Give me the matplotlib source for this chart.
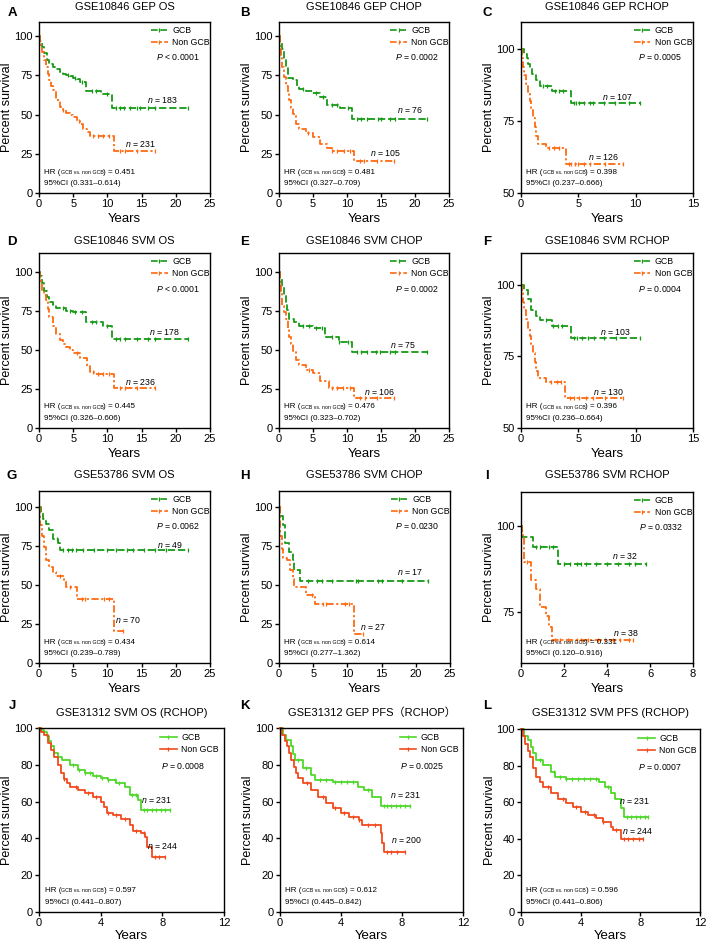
import numpy as np
import matplotlib
matplotlib.use("Agg")
from matplotlib import pyplot as plt
from matplotlib.lines import Line2D

plt.rcParams['font.family'] = ['Liberation Sans', 'Noto Sans CJK SC']
plt.rcParams['mathtext.fontset'] = 'custom'
plt.rcParams['mathtext.it'] = 'Liberation Sans:italic'
plt.rcParams['mathtext.rm'] = 'Liberation Sans'

# ---- survival step data: t = event times (years), s = survival (%), c = censor times
# A  GSE10846 GEP OS
a_gcb_t = [0, 0.2, 0.5, 0.8, 1.1, 1.5, 2.0, 2.5, 3.0, 3.5, 4.0, 4.5, 5.0, 5.5, 6.0, 6.8, 9.0, 10.7]
a_gcb_s = [100, 97, 93, 89, 85, 82, 80, 79, 77, 76, 75.5, 74.5, 73.5, 72.5, 71, 65, 63, 54.5]
a_gcb_c = [4.2, 5.3, 6.3, 7.8, 8.4, 10.0, 11.3, 11.8, 12.4, 13.3, 14.3, 14.8, 15.9, 17.0, 21.8]
a_non_t = [0, 0.1, 0.3, 0.5, 0.75, 1.0, 1.25, 1.5, 1.75, 2.0, 2.5, 3.0, 3.5, 4.0, 4.5, 5.0, 5.5, 6.0, 6.5, 7.0, 7.5, 11.0]
a_non_s = [100, 96, 93, 90, 85, 80.5, 76, 72, 68.5, 65.5, 59, 55, 53, 51, 49.5, 48.5, 46, 44, 41, 39, 36.5, 26.5]
a_non_c = [3.5, 5.8, 7.9, 8.6, 9.3, 10.2, 11.8, 12.6, 14.3, 16.9]
# B  GSE10846 GEP CHOP
b_gcb_t = [0, 0.2, 0.4, 0.7, 1.0, 1.3, 2.0, 2.7, 3.0, 4.0, 5.0, 6.0, 7.0, 9.0, 10.7]
b_gcb_s = [100, 96, 92, 86, 80, 73, 72, 68, 66.5, 65, 63.5, 61.5, 56, 54, 47]
b_gcb_c = [3.6, 5.5, 6.4, 7.8, 8.6, 10.2, 11.5, 12.1, 13.0, 14.5, 15.0, 16.3, 17.0, 21.8]
b_non_t = [0, 0.1, 0.3, 0.5, 0.75, 1.0, 1.25, 1.5, 1.75, 2.0, 2.5, 3.0, 4.0, 5.0, 6.0, 7.0, 7.8, 11.0]
b_non_s = [100, 93, 86, 80, 74, 68.5, 63.5, 59, 54.5, 50.5, 44, 40.5, 38, 35.5, 31.5, 28.5, 27, 20.5]
b_non_c = [4.3, 7.8, 8.5, 9.5, 10.4, 11.9, 12.5, 14.4, 16.9]
# C  GSE10846 GEP RCHOP
c_gcb_t = [0, 0.3, 0.5, 0.65, 0.8, 1.0, 1.3, 1.7, 2.7, 4.4]
c_gcb_s = [100, 98.5, 97, 95, 93.5, 91.5, 89.3, 87.2, 85.5, 81.2]
c_gcb_c = [1.9, 2.3, 3.0, 3.3, 3.7, 4.6, 4.8, 5.1, 5.5, 6.0, 6.3, 7.2, 8.2, 9.4, 10.4]
c_non_t = [0, 0.1, 0.2, 0.3, 0.45, 0.6, 0.75, 0.9, 1.05, 1.2, 1.35, 1.5, 2.2, 3.9]
c_non_s = [100, 97, 94, 91, 88, 85, 82, 79, 76, 73, 70, 67, 65.5, 60]
c_non_c = [2.4, 2.9, 3.3, 4.2, 4.4, 4.7, 5.0, 5.5, 6.0, 7.3, 8.9]
# D  GSE10846 SVM OS
d_gcb_t = [0, 0.2, 0.5, 0.8, 1.1, 1.5, 2.0, 2.5, 4.0, 5.0, 6.9, 9.3, 10.7]
d_gcb_s = [100, 97, 93, 88, 84, 80.5, 79, 76.5, 75, 74, 68, 65, 57]
d_gcb_c = [3.5, 4.5, 5.2, 6.3, 7.8, 8.4, 10.0, 11.3, 11.8, 12.6, 14.3, 15.9, 17.0, 21.8]
d_non_t = [0, 0.1, 0.3, 0.5, 0.75, 1.0, 1.25, 1.5, 2.0, 2.5, 3.0, 3.5, 4.0, 4.5, 5.0, 6.0, 7.0, 7.5, 8.0, 11.0]
d_non_s = [100, 96, 92, 88, 85, 82, 76, 71, 65, 60, 56.5, 54, 52, 50, 48, 44.5, 39.5, 36, 34.5, 25.5]
d_non_c = [5.6, 7.9, 8.6, 9.3, 10.2, 11.8, 12.6, 14.3, 16.9]
# E  GSE10846 SVM CHOP
e_gcb_t = [0, 0.2, 0.4, 0.7, 1.0, 1.2, 1.4, 2.2, 3.0, 5.0, 6.8, 8.8, 10.8]
e_gcb_s = [100, 96, 91, 85, 80, 75.5, 69.5, 68, 65.3, 64.3, 58.5, 55.3, 48.5]
e_gcb_c = [3.5, 4.4, 5.4, 6.3, 7.8, 8.8, 10.2, 11.4, 12.0, 13.0, 14.3, 14.9, 16.3, 17.0, 21.8]
e_non_t = [0, 0.1, 0.25, 0.5, 0.75, 1.0, 1.25, 1.5, 1.75, 2.0, 2.5, 3.0, 4.0, 5.0, 6.0, 7.3, 11.0]
e_non_s = [100, 92, 86, 78, 74, 70, 64, 58.5, 53.5, 49, 43.5, 40.5, 37, 35, 30, 25.5, 19]
e_non_c = [4.4, 7.8, 8.5, 9.4, 10.4, 11.9, 12.6, 14.4, 16.9]
# F  GSE10846 SVM RCHOP
f_gcb_t = [0, 0.3, 0.6, 0.9, 1.3, 1.7, 2.7, 4.4]
f_gcb_s = [100, 98, 95, 91.3, 89, 87.6, 85.5, 81.3]
f_gcb_c = [2.2, 2.8, 3.2, 3.6, 4.6, 4.9, 5.3, 5.8, 6.4, 7.2, 8.3, 10.4]
f_non_t = [0, 0.1, 0.2, 0.3, 0.45, 0.6, 0.75, 0.9, 1.05, 1.2, 1.35, 1.5, 2.2, 3.8]
f_non_s = [100, 97, 94, 91, 88, 85, 82, 79, 76, 73, 70, 67.5, 66, 60.3]
f_non_c = [2.6, 3.1, 3.5, 4.3, 4.6, 5.1, 5.7, 6.3, 7.3, 8.9]
# G  GSE53786 SVM OS
g_gcb_t = [0, 0.3, 0.6, 1.0, 1.5, 2.0, 2.8, 3.1]
g_gcb_s = [100, 96, 92, 89, 85, 79, 76.5, 72.5]
g_gcb_c = [2.6, 3.5, 4.2, 4.8, 5.4, 6.5, 8.0, 10.0, 11.2, 12.8, 13.8, 15.3, 17.0, 18.5, 21.8]
g_non_t = [0, 0.1, 0.2, 0.4, 0.7, 1.0, 1.5, 2.0, 2.5, 3.7, 4.0, 5.5, 11.0]
g_non_s = [100, 95, 88, 81, 74, 66, 61.5, 58.3, 55.5, 53, 48.5, 41, 20.5]
g_non_c = [3.0, 4.5, 6.3, 6.7, 9.5, 10.2, 12.3]
# H  GSE53786 SVM CHOP
h_gcb_t = [0, 0.2, 0.6, 0.9, 1.4, 2.0, 2.2, 3.0]
h_gcb_s = [100, 94, 88, 76.5, 71, 65.8, 59.4, 52.6]
h_gcb_c = [4.2, 5.5, 6.3, 7.8, 11.2, 11.5, 14.5, 15.0, 18.0, 21.8]
h_non_t = [0, 0.1, 0.2, 0.4, 0.6, 1.2, 1.6, 2.0, 2.2, 4.0, 5.3, 11.0]
h_non_s = [100, 92, 81, 73, 67, 65.8, 59.4, 54, 48.5, 43.5, 37.5, 18.5]
h_non_c = [4.8, 6.4, 6.8, 9.7, 10.2, 12.3]
# I  GSE53786 SVM RCHOP
i_gcb_t = [0, 0.05, 0.55, 1.7]
i_gcb_s = [100, 96.9, 93.8, 88.9]
i_gcb_c = [0.7, 0.9, 1.3, 1.5, 2.0, 2.3, 2.6, 2.8, 3.0, 3.5, 4.0, 4.5, 5.0, 5.3, 5.8]
i_non_t = [0, 0.05, 0.12, 0.15, 0.45, 0.7, 0.9, 1.15, 1.3, 1.42]
i_non_s = [100, 97.4, 94.7, 89.5, 84.2, 81.6, 76.3, 73.7, 70.5, 66.6]
i_non_c = [0.3, 1.6, 1.8, 2.2, 2.6, 2.8, 3.1, 3.6, 3.9, 4.3, 4.6, 5.0, 5.2]
# J  GSE31312 SVM OS (RCHOP)
j_gcb_t = [0, 0.15, 0.3, 0.5, 0.65, 0.8, 1.0, 1.25, 1.5, 2.0, 2.5, 3.0, 3.5, 4.0, 4.5, 5.0, 5.6, 5.9, 6.4, 6.6]
j_gcb_s = [100, 99, 98, 95.5, 93, 90, 86.5, 84.5, 82.7, 80, 77.3, 75.5, 74, 72.7, 71.8, 70, 68.2, 63.6, 60.9, 55.5]
j_gcb_c = [2.2, 2.6, 3.0, 3.3, 3.7, 4.1, 4.5, 4.9, 5.2, 6.0, 6.3, 6.8, 7.0, 7.3, 7.6, 7.9, 8.2, 8.5]
j_non_t = [0, 0.15, 0.3, 0.6, 0.8, 1.0, 1.2, 1.4, 1.6, 1.8, 2.0, 2.5, 3.0, 3.5, 4.0, 4.2, 4.4, 4.8, 5.3, 5.9, 6.1, 6.6, 6.9, 7.0, 7.3]
j_non_s = [100, 98, 96, 91.8, 88, 84.5, 80, 75.5, 72.5, 70, 68.2, 66.4, 64.5, 62.7, 60, 57.3, 53.6, 52.7, 50.4, 47.3, 44.2, 42.7, 40.9, 35.5, 30]
j_non_c = [1.6, 2.4, 3.2, 3.7, 4.5, 5.0, 5.6, 6.3, 6.8, 7.5, 7.8, 8.2]
# K  GSE31312 GEP PFS (RCHOP)
k_gcb_t = [0, 0.2, 0.4, 0.7, 0.85, 1.0, 1.5, 2.0, 2.3, 3.5, 5.1, 5.5, 6.0, 6.6]
k_gcb_s = [100, 96, 93.6, 90, 86, 82.7, 78.2, 74.5, 71.8, 70.4, 68.2, 66.4, 62.7, 57.6]
k_gcb_c = [1.2, 1.7, 2.6, 3.0, 3.6, 4.0, 4.4, 4.8, 5.8, 6.8, 7.0, 7.3, 7.6, 7.9, 8.2, 8.5]
k_non_t = [0, 0.15, 0.3, 0.45, 0.6, 0.75, 0.9, 1.05, 1.2, 1.5, 2.0, 2.5, 3.0, 3.5, 4.0, 4.5, 5.2, 5.4, 6.6, 6.7, 6.8]
k_non_s = [100, 96, 93, 90, 86.4, 82.5, 79, 75.5, 72.7, 70, 66.4, 62.7, 59, 56.4, 53.6, 51.8, 50, 47.3, 42.7, 37.3, 32.7]
k_non_c = [1.8, 2.8, 3.6, 4.2, 4.8, 5.2, 5.8, 6.2, 7.0, 7.3, 7.7, 8.2]
# L  GSE31312 SVM PFS (RCHOP)
l_gcb_t = [0, 0.2, 0.5, 0.65, 0.8, 1.0, 1.5, 2.0, 2.3, 3.0, 5.2, 5.6, 6.0, 6.3, 6.7, 6.9]
l_gcb_s = [100, 96, 94, 90, 86.7, 83, 80.3, 76.6, 73.9, 72.6, 71.2, 68.4, 64.8, 62, 56.6, 52]
l_gcb_c = [1.3, 2.2, 2.6, 3.0, 3.4, 3.8, 4.2, 4.6, 5.0, 5.8, 7.1, 7.4, 7.7, 8.0, 8.3, 8.5]
l_non_t = [0, 0.15, 0.3, 0.45, 0.6, 0.8, 1.0, 1.25, 1.5, 2.0, 2.5, 3.0, 3.5, 4.0, 4.5, 5.0, 5.5, 6.0, 6.2, 6.7]
l_non_s = [100, 96, 92, 88, 84.8, 78.5, 74, 71, 68.4, 65.1, 62, 59.3, 57.5, 54.7, 52.9, 51.6, 49.3, 46.5, 44.7, 40.1]
l_non_c = [1.8, 2.8, 3.7, 4.3, 4.9, 5.5, 6.4, 6.9, 7.2, 7.5, 7.9, 8.2]

letters = list("ABCDEFGHIJKL")
titles = ["GSE10846 GEP OS", "GSE10846 GEP CHOP", "GSE10846 GEP RCHOP",
          "GSE10846 SVM OS", "GSE10846 SVM CHOP", "GSE10846 SVM RCHOP",
          "GSE53786 SVM OS", "GSE53786 SVM CHOP", "GSE53786 SVM RCHOP",
          "GSE31312 SVM OS (RCHOP)", "GSE31312 GEP PFS\uff08RCHOP\uff09", "GSE31312 SVM PFS (RCHOP)"]
n_gcb = [183, 76, 107, 178, 75, 103, 49, 17, 32, 231, 231, 231]
n_non = [231, 105, 126, 236, 106, 130, 70, 27, 38, 244, 200, 244]
hr_vals = ["0.451", "0.481", "0.398", "0.445", "0.476", "0.396", "0.434", "0.614", "0.331", "0.597", "0.612", "0.596"]
ci_vals = ["0.331\u20130.614", "0.327\u20130.709", "0.237\u20130.666", "0.326\u20130.606", "0.323\u20130.702",
           "0.236\u20130.664", "0.239\u20130.789", "0.277\u20131.362", "0.120\u20130.916", "0.441\u20130.807",
           "0.445\u20130.842", "0.441\u20130.806"]
p_vals = ["< 0.0001", "= 0.0002", "= 0.0005", "< 0.0001", "= 0.0002", "= 0.0004",
          "= 0.0062", "= 0.0230", "= 0.0332", "= 0.0008", "= 0.0025", "= 0.0007"]

curves = [
    (a_gcb_t, a_gcb_s, a_gcb_c, a_non_t, a_non_s, a_non_c),
    (b_gcb_t, b_gcb_s, b_gcb_c, b_non_t, b_non_s, b_non_c),
    (c_gcb_t, c_gcb_s, c_gcb_c, c_non_t, c_non_s, c_non_c),
    (d_gcb_t, d_gcb_s, d_gcb_c, d_non_t, d_non_s, d_non_c),
    (e_gcb_t, e_gcb_s, e_gcb_c, e_non_t, e_non_s, e_non_c),
    (f_gcb_t, f_gcb_s, f_gcb_c, f_non_t, f_non_s, f_non_c),
    (g_gcb_t, g_gcb_s, g_gcb_c, g_non_t, g_non_s, g_non_c),
    (h_gcb_t, h_gcb_s, h_gcb_c, h_non_t, h_non_s, h_non_c),
    (i_gcb_t, i_gcb_s, i_gcb_c, i_non_t, i_non_s, i_non_c),
    (j_gcb_t, j_gcb_s, j_gcb_c, j_non_t, j_non_s, j_non_c),
    (k_gcb_t, k_gcb_s, k_gcb_c, k_non_t, k_non_s, k_non_c),
    (l_gcb_t, l_gcb_s, l_gcb_c, l_non_t, l_non_s, l_non_c),
]

# ---- layout (pixels in a 709x942 canvas): left, top, right, bottom of each axes
W, H = 709, 942
boxes = [(39, 22, 210, 193), (279, 22, 449, 193), (521, 22, 693, 193),
         (39, 253, 210, 428), (279, 253, 449, 428), (521, 253, 693, 428),
         (39, 491, 210, 663), (279, 491, 450, 663), (521, 492, 693, 663),
         (39, 728, 224, 912), (280, 728, 463, 912), (521, 729, 700, 912)]
xlims = [(0, 25)] * 2 + [(0, 15)] + [(0, 25)] * 2 + [(0, 15)] + [(0, 25)] * 2 + [(0, 8)] + [(0, 12)] * 3
xticks = [np.arange(0, 26, 5)] * 2 + [np.arange(0, 16, 5)] + [np.arange(0, 26, 5)] * 2 + [np.arange(0, 16, 5)] \
    + [np.arange(0, 26, 5)] * 2 + [np.arange(0, 9, 2)] + [np.arange(0, 13, 4)] * 3
ylims = [(0, 109), (0, 109), (50, 109.5), (0, 112), (0, 112), (50, 111), (0, 110), (0, 110), (60, 110),
         (0, 100), (0, 100), (0, 100)]
yticks = [[0, 25, 50, 75, 100]] * 2 + [[50, 75, 100]] + [[0, 25, 50, 75, 100]] * 2 + [[50, 75, 100]] \
    + [[0, 25, 50, 75, 100]] * 2 + [[75, 100]] + [[0, 20, 40, 60, 80, 100]] * 3
n_gcb_pos = [(18.1, 59), (19.3, 53), (8.4, 83.3), (18.4, 61.5), (18.2, 53), (8.2, 83.6),
             (19.2, 75.6), (19.2, 58.3), (4.84, 91.3), (7.65, 60.9), (8.2, 63.6), (7.6, 60.9)]
n_non_pos = [(14.8, 31), (15.6, 25.5), (7.2, 62.5), (14.8, 29.5), (14.8, 23), (7.6, 62.6),
             (13.0, 27.6), (13.7, 23), (4.9, 68.9), (8.0, 35.9), (8.3, 39.1), (7.8, 44)]

col_old = ('#169a16', '#ff6a10')
col_new = ('#4fd82a', '#f24a1c')
ls_old = ((0, (4, 1.6)), (0, (4, 1.4, 1.2, 1.4)))


def step_at(t, s, x):
    idx = np.searchsorted(np.asarray(t), np.asarray(x), side='right') - 1
    return np.asarray(s)[idx]


fig = plt.figure(figsize=(W / 100, H / 100), dpi=100)

for k in range(12):
    l, t, r, b = boxes[k]
    ax = fig.add_axes([l / W, 1 - b / H, (r - l) / W, (b - t) / H])
    newstyle = k >= 9
    cols = col_new if newstyle else col_old
    styles = ('-', '-') if newstyle else ls_old
    gt, gs, gc, nt, ns, nc = curves[k]
    for tt, ss, cc, col, ls in ((gt, gs, gc, cols[0], styles[0]), (nt, ns, nc, cols[1], styles[1])):
        end = max(cc)
        x = list(tt) + [end]
        y = list(ss) + [ss[-1]]
        ax.step(x, y, where='post', color=col, lw=1.3, linestyle=ls, clip_on=False)
        ax.plot(cc, step_at(tt, ss, cc), linestyle='none', marker='|', ms=3.5, mew=0.9, color=col, clip_on=False)

    ax.set_xlim(*xlims[k])
    ax.set_ylim(*ylims[k])
    ax.set_xticks(xticks[k])
    ax.set_yticks(yticks[k])
    for sp in ax.spines.values():
        sp.set_linewidth(1.0)
    ax.tick_params(direction='out', length=3, width=1, labelsize=8, pad=1.5)
    ax.set_xlabel('Years', fontsize=9.5)
    ax.set_ylabel('Percent survival', fontsize=9)
    ax.xaxis.set_label_coords(0.5, -0.115 if k < 9 else -0.1)
    ax.yaxis.set_label_coords(-0.15 if k < 9 else -0.14, 0.5)

    # title and panel letter
    cx = (l + r) / 2 / W
    ty = {0: 7, 1: 241, 2: 475, 3: 713}[k // 3]
    fig.text(cx, 1 - ty / H, titles[k], ha='center', va='center', fontsize=8)
    lx = [12, 245, 487][k % 3]
    ly = {0: 13, 1: 242, 2: 476, 3: 706}[k // 3]
    fig.text(lx / W, 1 - ly / H, letters[k], ha='center', va='center', fontsize=9.5, fontweight='bold')

    # legend
    handles = [Line2D([], [], color=cols[0], ls=styles[0], lw=1.2, marker='|', ms=3.5, mew=0.9),
               Line2D([], [], color=cols[1], ls=styles[1], lw=1.2, marker='|', ms=3.5, mew=0.9)]
    ax.legend(handles, ['GCB', 'Non GCB'], loc='upper left', bbox_to_anchor=(0.655, 0.975),
              frameon=False, fontsize=6.3, handlelength=1.9, handletextpad=0.5, labelspacing=0.35,
              borderpad=0, borderaxespad=0)
    ax.text(0.94 if k < 9 else 0.9, 0.795, r'$\it{P}$ ' + p_vals[k], transform=ax.transAxes,
            ha='right', va='center', fontsize=6.3)

    # n labels
    ax.text(*n_gcb_pos[k], r'$\it{n}$ = %d' % n_gcb[k], ha='center', va='center', fontsize=6.3)
    ax.text(*n_non_pos[k], r'$\it{n}$ = %d' % n_non[k], ha='center', va='center', fontsize=6.3)

    # hazard ratio text
    t1 = ax.text(0.03, 0.1, 'HR (', transform=ax.transAxes, fontsize=5.8, va='bottom')
    t2 = ax.annotate('GCB vs. non GCB', xy=(1, 0.12), xycoords=t1, fontsize=3.8, va='bottom')
    ax.annotate(') = ' + hr_vals[k], xy=(1, 0), xycoords=t2, fontsize=5.8, va='bottom',
                xytext=(0, -0.6), textcoords='offset points')
    ax.text(0.03, 0.035, '95%CI (' + ci_vals[k] + ')', transform=ax.transAxes, fontsize=5.8, va='bottom')

fig.savefig('out.png', dpi=100)
